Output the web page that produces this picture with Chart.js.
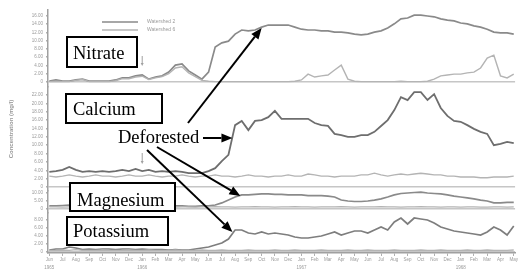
<!DOCTYPE html>
<html>
<head>
<meta charset="utf-8">
<script src="https://cdn.jsdelivr.net/npm/chart.js@4.4.1/dist/chart.umd.min.js"></script>
<style>
  html, body { margin: 0; padding: 0; background: #fff; }
  #wrap { width: 518px; height: 274px; position: relative; }
</style>
</head>
<body>
<div id="wrap"><canvas id="chart"></canvas></div>
<script>
// x positions in months since June 1965 (half-month samples)
const months = [0,0.5,1,1.5,2,2.5,3,3.5,4,4.5,5,5.5,6,6.5,7,7.5,8,8.5,9,9.5,
    10,10.5,11,11.5,12,12.5,13,13.5,14,14.5,15,15.5,16,16.5,17,17.5,18,18.5,19,19.5,
    20,20.5,21,21.5,22,22.5,23,23.5,24,24.5,25,25.5,26,26.5,27,27.5,28,28.5,29,29.5,
    30,30.5,31,31.5,32,32.5,33,33.5,34,34.5,35];

const monthTicks = [0,1,2,3,4,5,6,7,8,9,10,11,12,13,14,15,16,17,18,19,20,21,22,23,24,25,26,27,28,29,30,31,32,33,34,35];
const monthLabels = ['Jun','Jul','Aug','Sep','Oct','Nov','Dec',
    'Jan','Feb','Mar','Apr','May','Jun','Jul','Aug','Sep','Oct','Nov','Dec',
    'Jan','Feb','Mar','Apr','May','Jun','Jul','Aug','Sep','Oct','Nov','Dec',
    'Jan','Feb','Mar','Apr','May'];
const yearTicks = [0, 7, 19, 31];
const yearNames = ['1965', '1966', '1967', '1968'];
const seriesNames = ['Watershed 2', 'Watershed 6'];

const nitrateTicks = [0,2,4,6,8,10,12,14,16];
const calciumTicks = [0,2,4,6,8,10,12,14,16,18,20,22];
const magnesiumTicks = [0,5,10];
const potassiumTicks = [0,2,4,6,8];

// deforested watershed
const nitrateW2 = [0.2,0.5,0.2,0.2,0.5,0.7,0.2,0.2,0.2,0.2,
    0.5,1.0,1.0,1.5,1.7,0.7,1.2,1.5,2.4,4.1,
    4.4,2.7,1.7,0.7,2.4,8.5,9.5,9.9,11.6,12.6,
    12.4,12.6,13.3,13.8,13.8,13.8,13.8,13.3,12.8,12.6,
    12.6,12.4,12.4,12.1,12.1,11.9,11.6,11.4,11.6,12.1,
    12.4,13.1,14.1,15.3,15.5,16.2,16.2,16.0,15.8,15.3,
    15.0,14.8,14.3,14.1,13.6,13.3,12.8,12.1,11.9,11.9,
    11.6];
const calciumW2 = [3.6,3.8,4.1,4.8,4.1,3.6,3.8,3.6,3.8,3.6,
    3.8,4.1,3.8,4.3,3.8,4.1,3.6,3.8,3.6,3.8,
    3.6,3.3,3.3,3.3,3.8,4.5,6.2,7.7,14.8,15.8,
    13.6,15.8,16.0,16.7,18.2,16.3,16.3,16.3,16.3,16.3,
    15.3,14.8,14.6,12.7,12.4,12.0,12.0,12.4,12.4,13.2,
    14.6,16.0,18.4,21.5,20.8,22.7,22.7,20.8,22.2,18.9,
    17.0,15.8,15.6,14.8,13.9,13.2,12.7,10.0,10.3,10.8,
    10.5];
const magnesiumW2 = [1.9,1.9,2.2,2.5,2.2,1.9,1.9,1.9,1.9,2.2,
    1.9,1.9,1.9,2.2,1.9,1.9,1.9,1.6,1.6,1.9,
    1.9,1.6,1.6,1.9,1.9,2.5,3.8,5.6,7.5,8.8,
    8.8,9.1,9.4,9.4,9.1,9.1,8.8,8.8,8.8,8.4,
    8.4,8.4,8.1,7.5,5.6,5.0,4.7,4.7,5.0,5.6,
    6.3,7.5,8.8,9.7,10.0,10.3,10.6,10.0,9.7,9.4,
    8.8,8.1,7.5,6.9,6.3,5.6,5.0,3.8,3.8,4.1,
    4.1];
const potassiumW2 = [0.5,0.75,0.75,1.25,1.0,0.6,0.75,0.6,0.75,0.75,
    0.6,0.75,0.75,0.6,0.75,0.6,0.6,0.6,0.5,0.6,
    0.5,0.5,0.75,1.0,1.25,1.75,2.25,3.25,5.5,5.5,
    4.75,4.5,5.0,4.5,4.75,4.5,4.25,3.75,3.5,3.5,
    3.75,4.0,4.5,5.0,4.25,4.75,5.25,5.25,4.75,5.5,
    6.25,5.5,7.5,8.5,7.0,8.5,8.25,8.0,7.25,6.25,
    5.75,5.25,5.0,4.75,4.5,4.25,5.0,6.25,5.5,4.25,
    6.5];

// reference watershed
const nitrateW6 = [0.1,0.2,0.1,0.1,0.4,0.6,0.1,0.1,0.1,0.1,
    0.3,0.8,0.8,1.2,1.4,0.6,1.0,1.3,2.0,3.4,
    3.7,2.2,1.3,0.4,0.2,0.1,0.1,0.1,0.1,0.1,
    0.1,0.1,0.1,0.1,0.1,0.1,0.1,0.2,0.5,1.9,
    1.2,1.5,1.7,2.9,4.1,0.7,0.2,0.1,0.1,0.1,
    0.1,0.1,0.1,0.2,0.1,0.1,0.1,0.2,0.7,1.5,
    1.7,1.9,1.9,2.2,2.4,3.4,5.8,6.5,1.5,1.0,
    1.9];
const calciumW6 = [2.6,2.4,2.6,2.9,2.6,2.4,2.6,2.9,2.6,2.6,
    2.4,2.6,2.9,2.6,2.6,2.9,2.6,2.4,2.6,2.6,
    2.9,2.6,2.4,2.6,2.6,2.9,2.6,2.6,2.4,2.6,
    2.9,2.6,2.6,2.4,2.6,2.6,2.9,2.6,2.6,3.1,
    2.9,2.6,2.6,2.4,2.6,2.6,2.6,2.9,2.9,3.3,
    2.9,2.6,2.9,3.1,2.9,3.1,3.3,3.1,2.9,2.9,
    2.6,2.6,2.4,2.4,2.4,2.2,2.2,2.4,2.4,2.4,
    2.6];
const magnesiumW6 = [1.3,1.3,1.2,1.3,1.4,1.3,1.3,1.2,1.3,1.3,
    1.2,1.3,1.3,1.4,1.3,1.3,1.2,1.3,1.3,1.2,
    1.3,1.3,1.2,1.3,1.3,1.4,1.3,1.3,1.2,1.3,
    1.3,1.4,1.3,1.3,1.2,1.3,1.3,1.4,1.3,1.3,
    1.2,1.3,1.3,1.3,1.4,1.3,1.2,1.3,1.3,1.3,
    1.4,1.3,1.3,1.2,1.3,1.3,1.4,1.3,1.3,1.2,
    1.3,1.3,1.2,1.3,1.3,1.2,1.2,1.3,1.3,1.2,
    1.3];
const potassiumW6 = [0.4,0.4,0.5,0.4,0.6,0.4,0.4,0.4,0.5,0.4,
    0.4,0.4,0.5,0.4,0.4,0.5,0.4,0.4,0.4,0.5,
    0.4,0.4,0.4,0.5,0.4,0.4,0.5,0.4,0.4,0.4,
    0.5,0.4,0.4,0.4,0.5,0.4,0.4,0.5,0.4,0.4,
    0.4,0.5,0.4,0.4,0.4,0.5,0.4,0.4,0.5,0.4,
    0.4,0.4,0.5,0.4,0.4,0.4,0.5,0.4,0.4,0.5,
    0.4,0.4,0.4,0.5,0.4,0.4,0.5,0.4,0.4,0.4,
    0.5];

const DARK = '#8a8a8a';
const LIGHT = '#b4b4b4';
const tickFont = { family: '"Liberation Sans", Arial, sans-serif', size: 4.5 };

function line(values, axis, color, width) {
    return {
        data: values.map((v, i) => ({ x: months[i], y: v })),
        yAxisID: axis,
        borderColor: color,
        borderWidth: width,
        pointRadius: 0,
        tension: 0,
        fill: false
    };
}

function panelAxis(min, max, ticks, stackWeight, weight) {
    return {
        type: 'linear',
        position: 'left',
        stack: 'panels',
        stackWeight: stackWeight,
        weight: weight,
        bounds: 'data',
        min: min,
        max: max,
        afterBuildTicks: s => { s.ticks = ticks.map(v => ({ value: v })); },
        afterFit: s => { s.width = 40; },
        border: { color: '#a0a0a0', width: 1.5 },
        grid: {
            color: c => (c.tick && c.tick.value === 0) ? '#c6c6c6' : 'rgba(0,0,0,0)',
            lineWidth: 1.5,
            tickColor: '#b0b0b0',
            tickLength: 2
        },
        ticks: {
            font: tickFont,
            color: '#9a9a9a',
            padding: 3,
            autoSkip: false,
            callback: v => v === 0 ? '0' : v.toFixed(2)
        }
    };
}

function arrow(ctx, x1, y1, x2, y2, len, half) {
    const a = Math.atan2(y2 - y1, x2 - x1);
    const bx = x2 - len * Math.cos(a), by = y2 - len * Math.sin(a);
    ctx.beginPath();
    ctx.moveTo(x1, y1);
    ctx.lineTo(bx, by);
    ctx.stroke();
    ctx.beginPath();
    ctx.moveTo(x2, y2);
    ctx.lineTo(bx + half * Math.sin(a), by - half * Math.cos(a));
    ctx.lineTo(bx - half * Math.sin(a), by + half * Math.cos(a));
    ctx.closePath();
    ctx.fill();
}

const annotations = {
    id: 'annotations',
    afterDraw(chart) {
        const { ctx, scales } = chart;
        const x = scales.x;
        ctx.save();

        // legend
        ctx.lineWidth = 1.5;
        [[DARK, 22], [LIGHT, 30]].forEach(([col, yy], i) => {
            ctx.strokeStyle = col;
            ctx.beginPath();
            ctx.moveTo(102, yy);
            ctx.lineTo(138, yy);
            ctx.stroke();
            ctx.fillStyle = '#9a9a9a';
            ctx.font = '5px "Liberation Sans", Arial, sans-serif';
            ctx.textBaseline = 'middle';
            ctx.fillText(seriesNames[i], 147, yy);
        });

        // y title
        ctx.save();
        ctx.translate(11, 129);
        ctx.rotate(-Math.PI / 2);
        ctx.font = 'bold 6px "Liberation Sans", Arial, sans-serif';
        ctx.fillStyle = '#999';
        ctx.textAlign = 'center';
        ctx.textBaseline = 'middle';
        ctx.fillText('Concentration (mg/l)', 0, 0);
        ctx.restore();

        // small markers
        ctx.strokeStyle = '#a0a0a0';
        ctx.fillStyle = '#a0a0a0';
        ctx.lineWidth = 1;
        const mx = x.getPixelForValue(7);
        arrow(ctx, mx, 56, mx, 66, 3, 1.5);
        arrow(ctx, mx, 153, mx, 164, 3, 1.5);

        // labelled boxes
        ctx.font = '18.5px "Liberation Serif", "Times New Roman", serif';
        ctx.textBaseline = 'alphabetic';
        ctx.textAlign = 'left';
        const boxes = [
            ['Nitrate', 67, 37, 70, 30, 73, 59],
            ['Calcium', 66, 94, 96, 29, 73, 115],
            ['Magnesium', 70, 183, 105, 28, 77, 206],
            ['Potassium', 67, 217, 101, 28, 73, 237]
        ];
        boxes.forEach(([t, bx, by, bw, bh, tx, ty]) => {
            ctx.fillStyle = '#fff';
            ctx.fillRect(bx, by, bw, bh);
            ctx.strokeStyle = '#000';
            ctx.lineWidth = 2;
            ctx.strokeRect(bx, by, bw, bh);
            ctx.fillStyle = '#000';
            ctx.fillText(t, tx, ty);
        });
        ctx.fillText('Deforested', 118, 143);

        // arrows to the deforested responses
        ctx.strokeStyle = '#000';
        ctx.fillStyle = '#000';
        ctx.lineWidth = 2;
        arrow(ctx, 188, 123, x.getPixelForValue(16.0), scales.yN.getPixelForValue(13.1), 11, 4.5);
        arrow(ctx, 203, 138, x.getPixelForValue(13.8), scales.yCa.getPixelForValue(11.7), 11, 4.5);
        arrow(ctx, 157, 147, x.getPixelForValue(14.4), scales.yMg.getPixelForValue(8.1), 11, 4.5);
        arrow(ctx, 147, 150, x.getPixelForValue(13.8), scales.yK.getPixelForValue(5.0), 11, 4.5);

        ctx.restore();
    }
};

new Chart(document.getElementById('chart'), {
    type: 'line',
    data: {
        datasets: [
            line(nitrateW6, 'yN', LIGHT, 1.4),
            line(nitrateW2, 'yN', DARK, 1.7),
            line(calciumW6, 'yCa', LIGHT, 1.4),
            line(calciumW2, 'yCa', '#6e6e6e', 1.8),
            line(magnesiumW6, 'yMg', LIGHT, 1.4),
            line(magnesiumW2, 'yMg', DARK, 1.7),
            line(potassiumW6, 'yK', LIGHT, 1.4),
            line(potassiumW2, 'yK', '#7e7e7e', 1.7)
        ]
    },
    options: {
        responsive: true,
        maintainAspectRatio: false,
        animation: false,
        layout: { padding: { left: 8, right: 2, top: 10, bottom: 0 } },
        plugins: { legend: { display: false }, tooltip: { enabled: false } },
        scales: {
            x: {
                type: 'linear',
                min: -0.1,
                max: 35.1,
                afterBuildTicks: s => { s.ticks = monthTicks.map(v => ({ value: v })); },
                afterFit: s => { s.height = 21; },
                border: { color: '#a0a0a0', width: 1.5 },
                grid: { drawOnChartArea: false, tickLength: 3, color: '#b0b0b0' },
                ticks: {
                    font: Object.assign({}, tickFont, { lineHeight: 1.8 }),
                    color: '#9a9a9a',
                    padding: 0,
                    maxRotation: 0,
                    autoSkip: false,
                    callback: v => {
                        const yi = yearTicks.indexOf(v);
                        return [monthLabels[v], yi >= 0 ? yearNames[yi] : ''];
                    }
                }
            },
            yK: panelAxis(-0.25, 9.75, potassiumTicks, 40, 1),
            yMg: panelAxis(-2.5, 11.25, magnesiumTicks, 22, 2),
            yCa: panelAxis(-0.96, 23.92, calciumTicks, 104, 3),
            yN: panelAxis(-1.21, 17.45, nitrateTicks, 77, 4)
        }
    },
    plugins: [annotations]
});
</script>
</body>
</html>
